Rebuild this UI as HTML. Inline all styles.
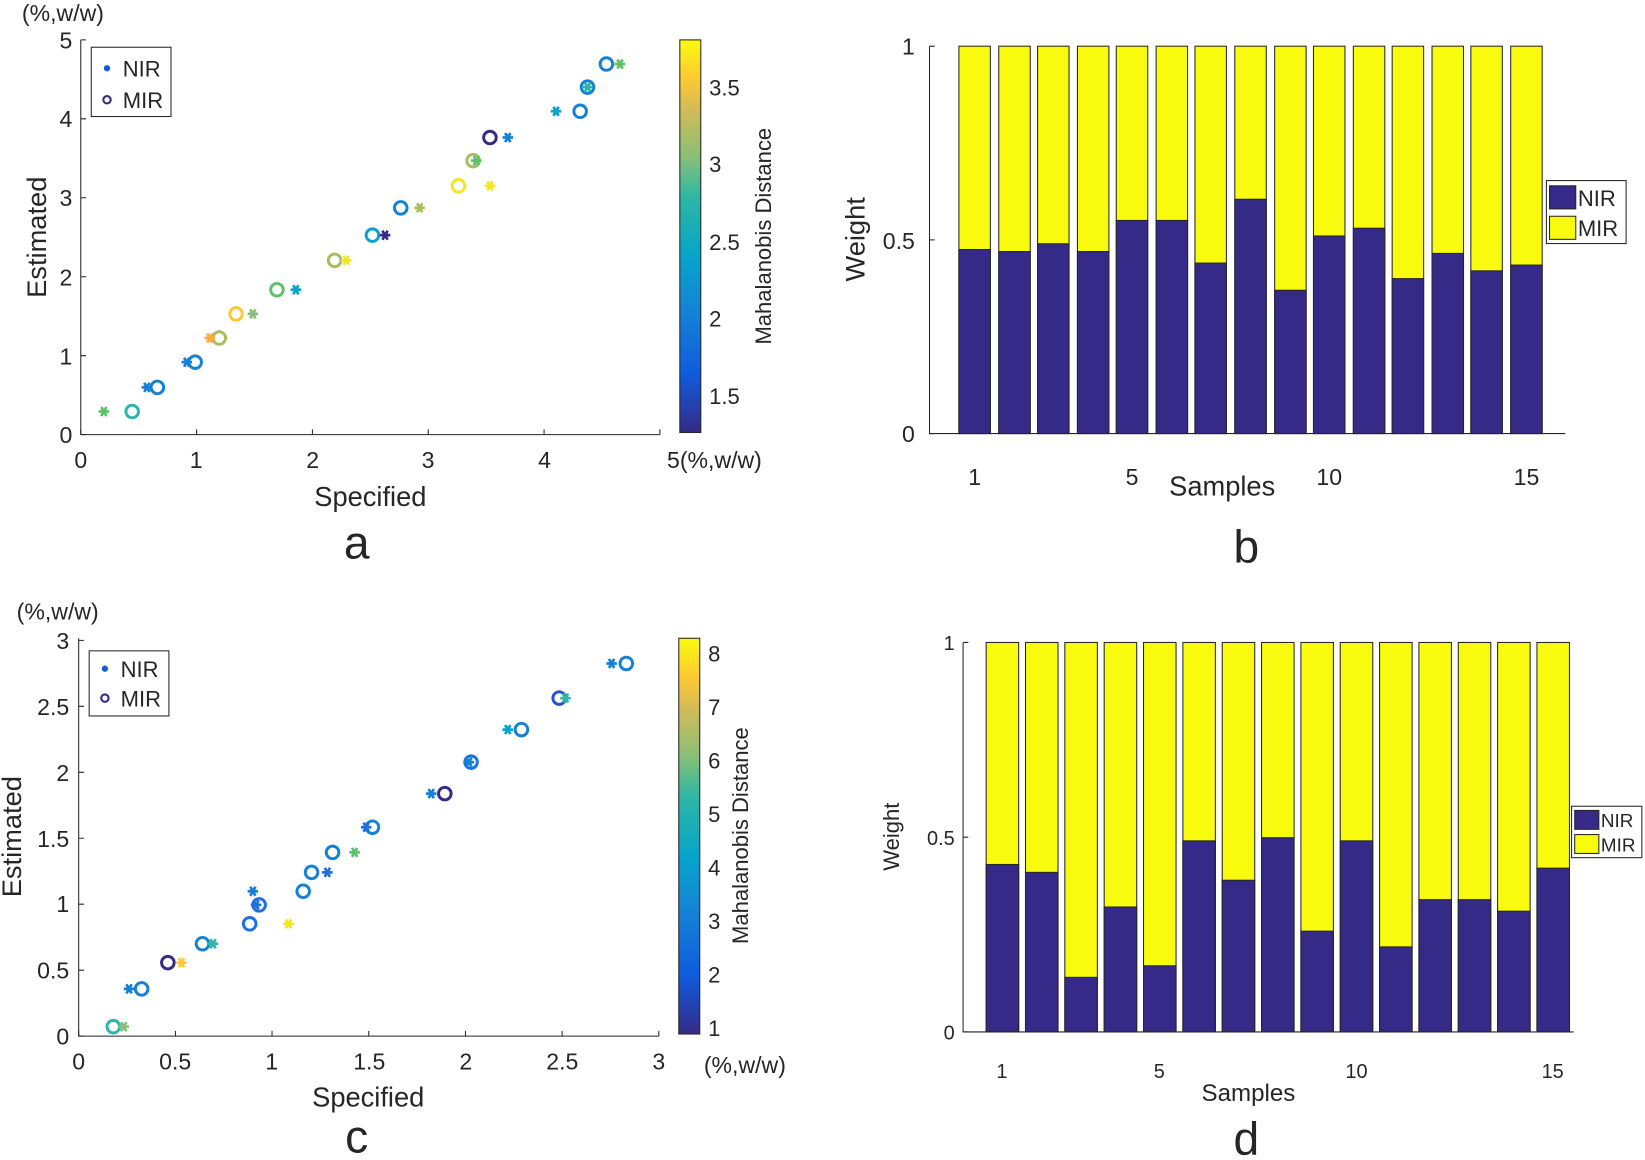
<!DOCTYPE html>
<html><head><meta charset="utf-8"><style>
html,body{margin:0;padding:0;background:#fff}
svg{display:block}
text{font-family:"Liberation Sans",Arial,sans-serif;fill:#262626}
</style></head><body>
<svg width="1645" height="1160" viewBox="0 0 1568 1105" preserveAspectRatio="none" xmlns="http://www.w3.org/2000/svg">
<defs>
<linearGradient id="par" x1="0" y1="1" x2="0" y2="0">
<stop offset="0" stop-color="#352a87"/><stop offset="0.15" stop-color="#0f5cdd"/><stop offset="0.3" stop-color="#1481d6"/>
<stop offset="0.45" stop-color="#06a4ca"/><stop offset="0.6" stop-color="#2eb7a4"/><stop offset="0.7" stop-color="#87bf77"/>
<stop offset="0.82" stop-color="#d1bb59"/><stop offset="0.9" stop-color="#fec832"/><stop offset="1" stop-color="#f9fb0e"/>
</linearGradient>
<g id="st"><path d="M-5,0H5M-2.5,-4.3L2.5,4.3M-2.5,4.3L2.5,-4.3" stroke-width="2.6"/></g>
</defs>

<!-- Panel a -->
<g stroke="#262626" stroke-width="1" fill="none">
<path d="M77,38V414H629"/>
<path d="M77,414v-5M187.4,414v-5M297.8,414v-5M408.2,414v-5M518.6,414v-5M629,414v-5"/>
<path d="M77,414h5M77,338.8h5M77,263.6h5M77,188.4h5M77,113.2h5M77,38h5"/>
</g>
<g font-size="22" text-anchor="middle">
<text x="77" y="446">0</text><text x="187" y="446">1</text><text x="298" y="446">2</text><text x="408" y="446">3</text><text x="519" y="446">4</text><text x="681" y="446">5(%,w/w)</text>
</g>
<g font-size="22" text-anchor="end">
<text x="69" y="422">0</text><text x="69" y="347">1</text><text x="69" y="272">2</text><text x="69" y="196">3</text><text x="69" y="121">4</text><text x="69" y="46">5</text>
</g>
<text x="60" y="20" font-size="22" text-anchor="middle">(%,w/w)</text>
<text x="353" y="482" font-size="26" text-anchor="middle">Specified</text>
<text x="44" y="226" font-size="26" text-anchor="middle" transform="rotate(-90 44 226)">Estimated</text>
<text x="340" y="532" font-size="44" text-anchor="middle">a</text>
<rect x="87" y="45" width="76" height="66" fill="#fff" stroke="#262626"/>
<circle cx="102" cy="65" r="3" fill="#0f5cdd"/><text x="117" y="73" font-size="21">NIR</text>
<circle cx="102" cy="95" r="3.5" fill="none" stroke="#352a87" stroke-width="2"/><text x="117" y="103" font-size="21">MIR</text>
<rect x="648" y="38" width="20" height="374" fill="url(#par)" stroke="#262626"/>
<g font-size="21"><text x="676" y="91">3.5</text><text x="676" y="164">3</text><text x="676" y="238">2.5</text><text x="676" y="311">2</text><text x="676" y="385">1.5</text></g>
<text x="735" y="225" font-size="21" text-anchor="middle" transform="rotate(-90 735 225)">Mahalanobis Distance</text>
<g fill="none" stroke-width="2.8">
<circle cx="126" cy="392" r="6" stroke="#2ab6aa"/><circle cx="150" cy="369" r="6" stroke="#1481d6"/><circle cx="186" cy="345" r="6" stroke="#1481d6"/>
<circle cx="209" cy="322" r="6" stroke="#a8be5b"/><circle cx="225" cy="299" r="6" stroke="#fec832"/><circle cx="264" cy="276" r="6" stroke="#5cc26a"/>
<circle cx="319" cy="248" r="6" stroke="#a8be5b"/><circle cx="355" cy="224" r="6" stroke="#06a4ca"/><circle cx="382" cy="198" r="6" stroke="#1481d6"/>
<circle cx="437" cy="177" r="6" stroke="#f4e61e"/><circle cx="451" cy="153" r="6" stroke="#a8be5b"/><circle cx="467" cy="131" r="6" stroke="#352a87"/>
<circle cx="553" cy="106" r="6" stroke="#1481d6"/><circle cx="560" cy="83" r="6" stroke="#1481d6"/><circle cx="578" cy="61" r="6" stroke="#1481d6"/>
</g>
<g>
<use href="#st" x="99" y="392" stroke="#5cc26a"/><use href="#st" x="140" y="369" stroke="#1481d6"/><use href="#st" x="178" y="345" stroke="#1481d6"/>
<use href="#st" x="200" y="322" stroke="#fcaa3a"/><use href="#st" x="241" y="299" stroke="#87bf77"/><use href="#st" x="282" y="276" stroke="#06a4ca"/>
<use href="#st" x="330" y="248" stroke="#f4e61e"/><use href="#st" x="367" y="224" stroke="#352a87"/><use href="#st" x="400" y="198" stroke="#a8be5b"/>
<use href="#st" x="467" y="177" stroke="#f4e61e"/><use href="#st" x="454" y="153" stroke="#5cc26a"/><use href="#st" x="484" y="131" stroke="#1481d6"/>
<use href="#st" x="530" y="106" stroke="#06a4ca"/><use href="#st" x="560" y="83" stroke="#2eb7a4"/><use href="#st" x="591" y="61" stroke="#5cc26a"/>
</g>

<!-- Panel b -->
<g id="barsb" stroke="#262626" stroke-width="1">
<rect x="914" y="44" width="30" height="369" fill="#f9fb0e"/><rect x="914" y="237.7" width="30" height="175.3" fill="#352a87"/>
<rect x="952" y="44" width="30" height="369" fill="#f9fb0e"/><rect x="952" y="239.6" width="30" height="173.4" fill="#352a87"/>
<rect x="989" y="44" width="30" height="369" fill="#f9fb0e"/><rect x="989" y="232.2" width="30" height="180.8" fill="#352a87"/>
<rect x="1027" y="44" width="30" height="369" fill="#f9fb0e"/><rect x="1027" y="239.6" width="30" height="173.4" fill="#352a87"/>
<rect x="1064" y="44" width="30" height="369" fill="#f9fb0e"/><rect x="1064" y="210" width="30" height="203" fill="#352a87"/>
<rect x="1102" y="44" width="30" height="369" fill="#f9fb0e"/><rect x="1102" y="210" width="30" height="203" fill="#352a87"/>
<rect x="1139" y="44" width="30" height="369" fill="#f9fb0e"/><rect x="1139" y="250.6" width="30" height="162.4" fill="#352a87"/>
<rect x="1177" y="44" width="30" height="369" fill="#f9fb0e"/><rect x="1177" y="189.8" width="30" height="223.2" fill="#352a87"/>
<rect x="1215" y="44" width="30" height="369" fill="#f9fb0e"/><rect x="1215" y="276.5" width="30" height="136.5" fill="#352a87"/>
<rect x="1252" y="44" width="30" height="369" fill="#f9fb0e"/><rect x="1252" y="224.8" width="30" height="188.2" fill="#352a87"/>
<rect x="1290" y="44" width="30" height="369" fill="#f9fb0e"/><rect x="1290" y="217.4" width="30" height="195.6" fill="#352a87"/>
<rect x="1327" y="44" width="30" height="369" fill="#f9fb0e"/><rect x="1327" y="265.4" width="30" height="147.6" fill="#352a87"/>
<rect x="1365" y="44" width="30" height="369" fill="#f9fb0e"/><rect x="1365" y="241.4" width="30" height="171.6" fill="#352a87"/>
<rect x="1402" y="44" width="30" height="369" fill="#f9fb0e"/><rect x="1402" y="258" width="30" height="155" fill="#352a87"/>
<rect x="1440" y="44" width="30" height="369" fill="#f9fb0e"/><rect x="1440" y="252.5" width="30" height="160.5" fill="#352a87"/>
</g>
<g stroke="#262626" fill="none"><path d="M886,44V413H1492"/><path d="M886,413h5M886,228.5h5M886,44h5"/></g>
<g font-size="22" text-anchor="end"><text x="872" y="421">0</text><text x="872" y="237">0.5</text><text x="872" y="52">1</text></g>
<g font-size="22" text-anchor="middle"><text x="929" y="462">1</text><text x="1079" y="462">5</text><text x="1267" y="462">10</text><text x="1455" y="462">15</text></g>
<text x="1165" y="472" font-size="26" text-anchor="middle">Samples</text>
<text x="824" y="228" font-size="26" text-anchor="middle" transform="rotate(-90 824 228)">Weight</text>
<text x="1188" y="536" font-size="44" text-anchor="middle">b</text>
<rect x="1474" y="172" width="76" height="60" fill="#fff" stroke="#262626"/>
<rect x="1477" y="177" width="25" height="22" fill="#352a87" stroke="#262626"/><text x="1504" y="196" font-size="21">NIR</text>
<rect x="1477" y="206" width="25" height="22" fill="#f9fb0e" stroke="#262626"/><text x="1504" y="225" font-size="21">MIR</text>

<!-- Panel c -->
<g stroke="#262626" fill="none">
<path d="M75,608V987H628"/>
<path d="M75,987v-5M167.2,987v-5M259.3,987v-5M351.5,987v-5M443.7,987v-5M535.8,987v-5M628,987v-5"/>
<path d="M75,987h5M75,924.2h5M75,861.3h5M75,798.5h5M75,735.7h5M75,672.8h5M75,610h5"/>
</g>
<g font-size="22" text-anchor="middle"><text x="75" y="1019">0</text><text x="167" y="1019">0.5</text><text x="259" y="1019">1</text><text x="352" y="1019">1.5</text><text x="444" y="1019">2</text><text x="536" y="1019">2.5</text><text x="628" y="1019">3</text></g>
<text x="710" y="1022" font-size="22" text-anchor="middle">(%,w/w)</text>
<g font-size="22" text-anchor="end"><text x="66" y="995">0</text><text x="66" y="932">0.5</text><text x="66" y="869">1</text><text x="66" y="807">1.5</text><text x="66" y="744">2</text><text x="66" y="681">2.5</text><text x="66" y="618">3</text></g>
<text x="55" y="590" font-size="22" text-anchor="middle">(%,w/w)</text>
<text x="351" y="1054" font-size="26" text-anchor="middle">Specified</text>
<text x="20" y="797" font-size="26" text-anchor="middle" transform="rotate(-90 20 797)">Estimated</text>
<text x="340" y="1098" font-size="44" text-anchor="middle">c</text>
<rect x="85" y="620" width="76" height="62" fill="#fff" stroke="#262626"/>
<circle cx="100" cy="637" r="3" fill="#0f5cdd"/><text x="115" y="645" font-size="21">NIR</text>
<circle cx="100" cy="665" r="3.5" fill="none" stroke="#352a87" stroke-width="2"/><text x="115" y="673" font-size="21">MIR</text>
<rect x="647" y="608" width="20" height="377" fill="url(#par)" stroke="#262626"/>
<g font-size="21"><text x="675" y="630">8</text><text x="675" y="681">7</text><text x="675" y="732">6</text><text x="675" y="783">5</text><text x="675" y="834">4</text><text x="675" y="885">3</text><text x="675" y="936">2</text><text x="675" y="987">1</text></g>
<text x="713" y="796" font-size="21" text-anchor="middle" transform="rotate(-90 713 796)">Mahalanobis Distance</text>
<g fill="none" stroke-width="2.8">
<circle cx="108" cy="978" r="6" stroke="#2ab6aa"/><circle cx="135" cy="942" r="6" stroke="#1481d6"/><circle cx="160" cy="917" r="6" stroke="#352a87"/>
<circle cx="193" cy="899" r="6" stroke="#1481d6"/><circle cx="238" cy="880" r="6" stroke="#1f6fe0"/><circle cx="247" cy="862" r="6" stroke="#1f6fe0"/>
<circle cx="289" cy="849" r="6" stroke="#1481d6"/><circle cx="297" cy="831" r="6" stroke="#1481d6"/><circle cx="317" cy="812" r="6" stroke="#1481d6"/>
<circle cx="355" cy="788" r="6" stroke="#1481d6"/><circle cx="424" cy="756" r="6" stroke="#352a87"/><circle cx="449" cy="726" r="6" stroke="#1f6fe0"/>
<circle cx="497" cy="695" r="6" stroke="#1481d6"/><circle cx="533" cy="665" r="6" stroke="#2a4fcf"/><circle cx="597" cy="632" r="6" stroke="#1481d6"/>
</g>
<g>
<use href="#st" x="118" y="978" stroke="#87bf77"/><use href="#st" x="123" y="942" stroke="#1481d6"/><use href="#st" x="173" y="917" stroke="#fec832"/>
<use href="#st" x="203" y="899" stroke="#2eb7a4"/><use href="#st" x="241" y="849" stroke="#1481d6"/><use href="#st" x="244" y="862" stroke="#1f6fe0"/>
<use href="#st" x="275" y="880" stroke="#f4e61e"/><use href="#st" x="312" y="831" stroke="#1f6fe0"/><use href="#st" x="338" y="812" stroke="#5cc26a"/>
<use href="#st" x="349" y="788" stroke="#1f6fe0"/><use href="#st" x="411" y="756" stroke="#1481d6"/><use href="#st" x="447" y="726" stroke="#1481d6"/>
<use href="#st" x="484" y="695" stroke="#06a4ca"/><use href="#st" x="539" y="665" stroke="#2eb7a4"/><use href="#st" x="583" y="632" stroke="#1481d6"/>
</g>

<!-- Panel d -->
<g stroke="#262626" stroke-width="1">
<rect x="940" y="612" width="31" height="371" fill="#f9fb0e"/><rect x="940" y="823.5" width="31" height="159.5" fill="#352a87"/>
<rect x="977.5" y="612" width="31" height="371" fill="#f9fb0e"/><rect x="977.5" y="831" width="31" height="152" fill="#352a87"/>
<rect x="1015" y="612" width="31" height="371" fill="#f9fb0e"/><rect x="1015" y="931" width="31" height="52" fill="#352a87"/>
<rect x="1052.5" y="612" width="31" height="371" fill="#f9fb0e"/><rect x="1052.5" y="864" width="31" height="119" fill="#352a87"/>
<rect x="1090" y="612" width="31" height="371" fill="#f9fb0e"/><rect x="1090" y="920" width="31" height="63" fill="#352a87"/>
<rect x="1127.5" y="612" width="31" height="371" fill="#f9fb0e"/><rect x="1127.5" y="801" width="31" height="182" fill="#352a87"/>
<rect x="1165" y="612" width="31" height="371" fill="#f9fb0e"/><rect x="1165" y="838.5" width="31" height="144.5" fill="#352a87"/>
<rect x="1202.5" y="612" width="31" height="371" fill="#f9fb0e"/><rect x="1202.5" y="798" width="31" height="185" fill="#352a87"/>
<rect x="1240" y="612" width="31" height="371" fill="#f9fb0e"/><rect x="1240" y="887" width="31" height="96" fill="#352a87"/>
<rect x="1277.5" y="612" width="31" height="371" fill="#f9fb0e"/><rect x="1277.5" y="801" width="31" height="182" fill="#352a87"/>
<rect x="1315" y="612" width="31" height="371" fill="#f9fb0e"/><rect x="1315" y="902" width="31" height="81" fill="#352a87"/>
<rect x="1352.5" y="612" width="31" height="371" fill="#f9fb0e"/><rect x="1352.5" y="857" width="31" height="126" fill="#352a87"/>
<rect x="1390" y="612" width="31" height="371" fill="#f9fb0e"/><rect x="1390" y="857" width="31" height="126" fill="#352a87"/>
<rect x="1427.5" y="612" width="31" height="371" fill="#f9fb0e"/><rect x="1427.5" y="868" width="31" height="115" fill="#352a87"/>
<rect x="1465" y="612" width="31" height="371" fill="#f9fb0e"/><rect x="1465" y="827" width="31" height="156" fill="#352a87"/>
</g>
<g stroke="#262626" fill="none"><path d="M918,612V983H1500"/><path d="M918,983h5M918,797.5h5M918,612h5"/></g>
<g font-size="19" text-anchor="end"><text x="910" y="990">0</text><text x="910" y="805">0.5</text><text x="910" y="619">1</text></g>
<g font-size="19" text-anchor="middle"><text x="955" y="1027">1</text><text x="1105" y="1027">5</text><text x="1293" y="1027">10</text><text x="1480" y="1027">15</text></g>
<text x="1190" y="1049" font-size="23" text-anchor="middle">Samples</text>
<text x="857" y="797" font-size="21" text-anchor="middle" transform="rotate(-90 857 797)">Weight</text>
<text x="1188" y="1100" font-size="44" text-anchor="middle">d</text>
<rect x="1498" y="768" width="67" height="49" fill="#fff" stroke="#262626"/>
<rect x="1501" y="772" width="23" height="18" fill="#352a87" stroke="#262626"/><text x="1526" y="788" font-size="18">NIR</text>
<rect x="1501" y="795" width="23" height="18" fill="#f9fb0e" stroke="#262626"/><text x="1526" y="811" font-size="18">MIR</text>
</svg>
</body></html>
